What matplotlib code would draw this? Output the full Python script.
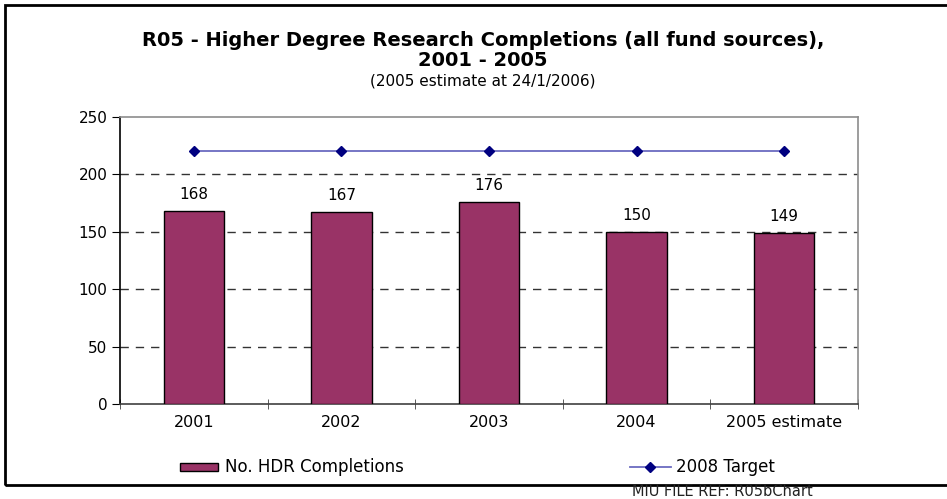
import matplotlib
matplotlib.use("Agg")
import matplotlib.pyplot as plt
from matplotlib.patches import Rectangle
from matplotlib.lines import Line2D
import numpy as np

categories = ["2001", "2002", "2003", "2004", "2005 estimate"]
completions = [168, 167, 176, 150, 149]
target_2008 = [220, 220, 220, 220, 220]
y_ticks = [0, 50, 100, 150, 200, 250]

plt.rcParams['font.family'] = ['DejaVu Sans']

fig = plt.figure(figsize=(9.47, 4.99), dpi=100)
W, H = 947, 499

# outer chart border (right edge is cut off)
fig.add_artist(Rectangle((5 / W, 1 - 485 / H), 950 / W, 480 / H,
                         transform=fig.transFigure, fill=False,
                         edgecolor='black', linewidth=2))

ax = fig.add_axes([120 / W, 1 - 404 / H, (858 - 120) / W, (404 - 117) / H])
x = np.arange(len(categories))

ax.bar(x, completions, width=0.41, color='#993366', edgecolor='black',
       linewidth=1, zorder=3)
ax.plot(x, target_2008, color='#6b6bc0', linewidth=1.3, marker='D',
        markersize=5, markerfacecolor='#000080', markeredgecolor='#000080',
        zorder=4)

for xi, v in zip(x, completions):
    ax.text(xi, v + 8, str(v), ha='center', va='bottom', fontsize=11)

ax.set_xlim(-0.5, len(categories) - 0.5)
ax.set_ylim(0, 250)
ax.set_yticks(y_ticks)
ax.set_yticklabels([str(t) for t in y_ticks], fontsize=11)
ax.set_xticks(x)
ax.set_xticklabels(categories, fontsize=11.5)
ax.tick_params(axis='x', length=0, pad=8)
ax.set_xticks(np.arange(len(categories) + 1) - 0.5, minor=True)
ax.tick_params(axis='x', which='minor', length=7, direction='inout', color='#404040')
ax.tick_params(axis='y', length=6, direction='out', pad=3)

for t in y_ticks[1:-1]:
    ax.axhline(t, color='#333333', linewidth=1, linestyle=(0, (6, 5)), zorder=1)

ax.spines['left'].set_color('black')
ax.spines['bottom'].set_color('#404040')
ax.spines['top'].set_color('#8c8c8c')
ax.spines['right'].set_color('#8c8c8c')
for s in ax.spines.values():
    s.set_linewidth(1.2)

fig.text(483 / W, 1 - 41 / H, "R05 - Higher Degree Research Completions (all fund sources),",
         ha='center', va='center', fontsize=14, fontweight='bold')
fig.text(483 / W, 1 - 61 / H, "2001 - 2005", ha='center', va='center',
         fontsize=14, fontweight='bold')
fig.text(483 / W, 1 - 81 / H, "(2005 estimate at 24/1/2006)", ha='center',
         va='center', fontsize=11)

# legend
fig.add_artist(Rectangle((180 / W, 1 - 471 / H), 38 / W, 8 / H,
                         transform=fig.transFigure, facecolor='#993366',
                         edgecolor='black', linewidth=1))
fig.text(225 / W, 1 - 467 / H, "No. HDR Completions", ha='left', va='center', fontsize=12)
fig.add_artist(Line2D([630 / W, 671 / W], [1 - 467 / H, 1 - 467 / H],
                      transform=fig.transFigure, color='#6b6bc0', linewidth=1.3))
fig.add_artist(Line2D([650 / W], [1 - 467 / H], transform=fig.transFigure,
                      marker='D', markersize=5, color='#000080'))
fig.text(676 / W, 1 - 467 / H, "2008 Target", ha='left', va='center', fontsize=12)

fig.text(632 / W, 1 - 492 / H, "MIU FILE REF: R05bChart", ha='left', va='center',
         fontsize=10.5, color='#222222')

fig.savefig("out.png", dpi=100)
